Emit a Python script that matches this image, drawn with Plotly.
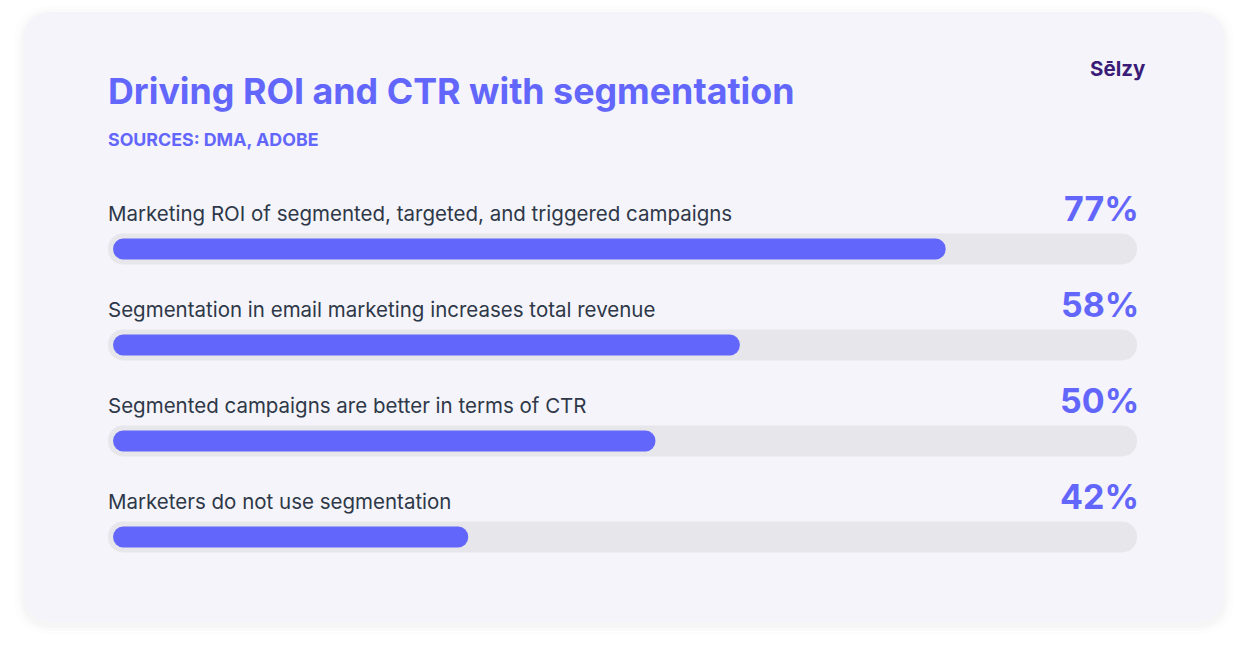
import plotly.graph_objects as go

# ---- data ----
categories = [
    "Marketing ROI of segmented, targeted, and triggered campaigns",
    "Segmentation in email marketing increases total revenue",
    "Segmented campaigns are better in terms of CTR",
    "Marketers do not use segmentation",
]
percent_labels = ["77%", "58%", "50%", "42%"]
bar_fill = [81.4, 61.4, 53.2, 35.0]   # visual fill length (% of track)
track_full = [100, 100, 100, 100]

title = "Driving ROI and CTR with segmentation"
subtitle = "SOURCES: DMA, ADOBE"
logo = "Sēlzy"

W, H = 1248, 645
ACCENT = "#6366FA"
TEXT = "#2E3848"
TRACK = "#E6E6EB"
CARD = "#F4F4FA"
FONT = "Inter"

idx = list(range(len(categories)))
track_start = -0.01
fill_start = 0.5

fig = go.Figure()
fig.add_trace(go.Bar(
    y=idx, x=[t - track_start for t in track_full], base=[track_start] * len(idx),
    orientation="h", width=0.323,
    marker=dict(color=TRACK, line=dict(width=0), cornerradius=15),
    hoverinfo="skip", showlegend=False,
))
fig.add_trace(go.Bar(
    y=idx, x=[v - fill_start for v in bar_fill], base=[fill_start] * len(idx),
    orientation="h", width=0.219,
    marker=dict(color=ACCENT, line=dict(width=0), cornerradius=10),
    hoverinfo="skip", showlegend=False,
))

annotations = []
for i, (c, p) in enumerate(zip(categories, percent_labels)):
    annotations.append(dict(
        x=0, y=i, xref="x", yref="y", text=c, showarrow=False,
        xanchor="left", yanchor="middle", yshift=36, xshift=-2,
        font=dict(family=FONT, size=20.5, color=TEXT),
    ))
    annotations.append(dict(
        x=100, y=i, xref="x", yref="y", text=p, showarrow=False,
        xanchor="right", yanchor="middle", yshift=41, xshift=4,
        font=dict(family=FONT, size=34, color=ACCENT, weight=700),
    ))

annotations.append(dict(
    x=106 / W, y=1 - 91 / H, xref="paper", yref="paper", text=title,
    showarrow=False, xanchor="left", yanchor="middle",
    font=dict(family=FONT, size=35.8, color=ACCENT, weight=700),
))
annotations.append(dict(
    x=106 / W, y=1 - 139 / H, xref="paper", yref="paper", text=subtitle,
    showarrow=False, xanchor="left", yanchor="middle",
    font=dict(family=FONT, size=17.8, color=ACCENT, weight=700),
))
annotations.append(dict(
    x=1148 / W, y=1 - 68 / H, xref="paper", yref="paper", text=logo,
    showarrow=False, xanchor="right", yanchor="middle",
    font=dict(family=FONT, size=20.5, color="#3A1C78", weight=700),
))


def rrect(x0, y0, x1, y1, r):
    def P(x, y):
        return f"{x / W:.5f},{1 - y / H:.5f}"
    return (f"M {P(x0 + r, y0)} L {P(x1 - r, y0)} Q {P(x1, y0)} {P(x1, y0 + r)} "
            f"L {P(x1, y1 - r)} Q {P(x1, y1)} {P(x1 - r, y1)} "
            f"L {P(x0 + r, y1)} Q {P(x0, y1)} {P(x0, y1 - r)} "
            f"L {P(x0, y0 + r)} Q {P(x0, y0)} {P(x0 + r, y0)} Z")


shapes = []
for k, a in [(10, 0.012), (6, 0.018), (3, 0.025)]:
    shapes.append(dict(type="path", xref="paper", yref="paper", layer="below",
                       path=rrect(24 - k, 12 - k + 3, 1224 + k, 622 + k + 3, 30 + k),
                       fillcolor=f"rgba(80,80,120,{a})", line=dict(width=0)))
shapes.append(dict(type="path", xref="paper", yref="paper", layer="below",
                   path=rrect(24, 12, 1224, 622, 30),
                   fillcolor=CARD, line=dict(width=0)))

fig.update_layout(
    width=W, height=H,
    margin=dict(l=0, r=0, t=0, b=0),
    paper_bgcolor="white", plot_bgcolor="rgba(0,0,0,0)",
    barmode="overlay",
    xaxis=dict(range=[0, 100], domain=[108 / W, 1137 / W], visible=False, fixedrange=True),
    yaxis=dict(range=[(H - 249) / 96, -249 / 96], domain=[0, 1], visible=False, fixedrange=True),
    annotations=annotations, shapes=shapes,
    showlegend=False,
)

fig.write_html("out.html")
